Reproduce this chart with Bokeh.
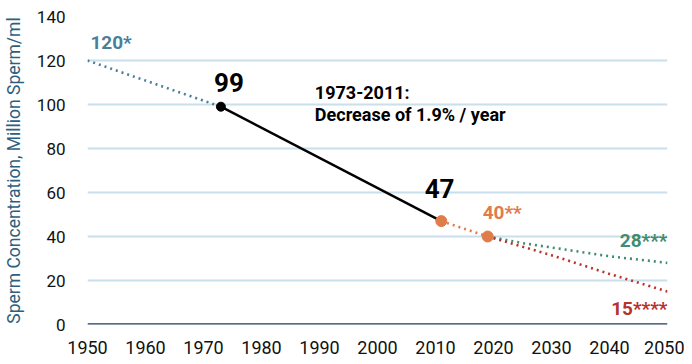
from bokeh.plotting import figure
from bokeh.models import Range1d, FixedTicker, Span
from bokeh.core.properties import value
from bokeh.embed import file_html
from bokeh.resources import INLINE

# Data
hist_years = [1950, 1973]
hist_vals = [120, 99]
meas_years = [1973, 2011]
meas_vals = [99, 47]
bridge_years = [2011, 2019]
bridge_vals = [47, 40]
proj_a_years = [2019, 2025, 2030, 2035, 2040, 2045, 2050]
proj_a_vals = [40, 37, 35, 33, 31, 29.5, 28]
proj_b_years = [2019, 2030, 2040, 2050]
proj_b_vals = [40, 31.5, 23, 15]
x_ticks = [1950, 1960, 1970, 1980, 1990, 2000, 2010, 2020, 2030, 2040, 2050]
y_ticks = [0, 20, 40, 60, 80, 100, 120, 140]

FONT = "Roboto"
BLUE = "#4a7f9a"
ORANGE = "#e07b4a"
GREEN = "#3f8c6e"
RED = "#b8322c"

p = figure(width=684, height=356, output_backend="svg", toolbar_location=None,
           x_range=Range1d(1950, 2050), y_range=Range1d(0, 140),
           min_border_left=85, min_border_right=17, min_border_top=16, min_border_bottom=32)
p.outline_line_color = None
p.background_fill_color = "white"

p.xaxis.ticker = FixedTicker(ticks=x_ticks)
p.yaxis.ticker = FixedTicker(ticks=y_ticks)
for ax in (p.xaxis[0], p.yaxis[0]):
    ax.axis_line_color = None
    ax.major_tick_line_color = None
    ax.minor_tick_line_color = None
    ax.major_label_text_font = FONT
    ax.major_label_text_color = "#111111"
p.xaxis.major_label_text_font_size = "18px"
p.yaxis.major_label_text_font_size = "17px"
p.xaxis.major_label_standoff = 10
p.yaxis.major_label_standoff = 16
p.yaxis.axis_label = "Sperm Concentration, Million Sperm/ml"
p.yaxis.axis_label_text_font = FONT
p.yaxis.axis_label_text_font_style = "normal"
p.yaxis.axis_label_text_font_size = "17.5px"
p.yaxis.axis_label_text_color = "#2e5f7f"
p.yaxis.axis_label_standoff = 10

p.xgrid.grid_line_color = None
p.ygrid.grid_line_color = "#c9e0ec"
p.ygrid.grid_line_width = 2

p.add_layout(Span(location=0, dimension="width", line_color="#1d3d5c", line_width=2.5))

DOT = "2 4"
p.line(hist_years, hist_vals, line_color=BLUE, line_width=2.6, line_dash=DOT)
p.line(proj_a_years, proj_a_vals, line_color=GREEN, line_width=2.6, line_dash=DOT)
p.line(proj_b_years, proj_b_vals, line_color=RED, line_width=2.6, line_dash=DOT)
p.line(bridge_years, bridge_vals, line_color=ORANGE, line_width=2.6, line_dash=DOT)
p.line(meas_years, meas_vals, line_color="black", line_width=2.5)
p.scatter([meas_years[0]], [meas_vals[0]], size=9, color="black")
p.scatter(bridge_years, bridge_vals, size=11, color=ORANGE)

def label(x, y, txt, color, size, align="left", baseline="middle"):
    p.text([x], [y], text=[txt], text_color=color, text_font=value(FONT),
           text_font_size=size, text_font_style="bold", text_align=align,
           text_baseline=baseline)

label(1950.5, 128, "120*", BLUE, "19px")
label(1974.4, 110, "99", "black", "26px", align="center")
label(2010.7, 61.8, "47", "black", "26px", align="center")
label(2021.5, 50.9, "40**", ORANGE, "19px", align="center")
label(2050, 38.2, "28***", GREEN, "19px", align="right")
label(2050, 7.3, "15****", RED, "19px", align="right")
label(1989.2, 105.5, "1973-2011:", "black", "18px")
label(1989.2, 95.5, "Decrease of 1.9% / year", "black", "18px")

open("out.html", "w").write(file_html(p, INLINE))
